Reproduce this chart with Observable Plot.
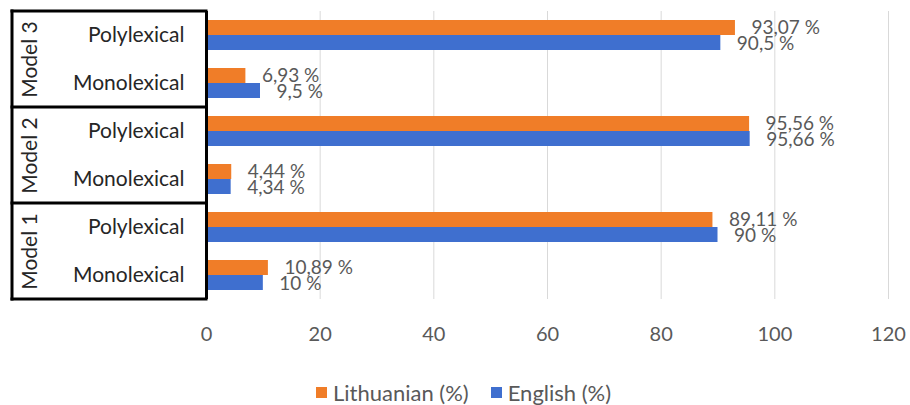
<!DOCTYPE html>
<html>
<head>
<meta charset="utf-8">
<script src="https://cdn.jsdelivr.net/npm/d3@7"></script>
<script src="https://cdn.jsdelivr.net/npm/@observablehq/plot@0.6"></script>
<style>
  html, body { margin: 0; padding: 0; background: #fff; }
  body { width: 910px; height: 405px; overflow: hidden; font-family: Lato, "Open Sans", sans-serif; }
  #legend { display: flex; align-items: center; height: 28px; padding-left: 316px; margin-top: 13px;
            font-family: Lato, sans-serif; font-size: 22px; color: #595959; }
  .item { display: flex; align-items: center; margin-right: 22px; }
  .sw { width: 11px; height: 11px; margin-right: 6px; }
</style>
</head>
<body>
<div id="chart"></div>
<div id="legend"></div>
<script>
const models = ["Model 3", "Model 3", "Model 2", "Model 2", "Model 1", "Model 1"];
const types = ["Polylexical", "Monolexical", "Polylexical", "Monolexical", "Polylexical", "Monolexical"];
const lithuanian = [93.07, 6.93, 95.56, 4.44, 89.11, 10.89];
const english = [90.5, 9.5, 95.66, 4.34, 90, 10];
const seriesNames = ["Lithuanian (%)", "English (%)"];
const colors = ["#F07D28", "#3F6FCF"];
const xTicks = [0, 20, 40, 60, 80, 100, 120];

const fmt = v => String(v).replace(".", ",") + " %";
const data = models.map((m, i) => ({model: m, type: types[i], lt: lithuanian[i], en: english[i]}));

const chart = Plot.plot({
  width: 910,
  height: 365,
  marginLeft: 206,
  marginRight: 22,
  marginTop: 11,
  marginBottom: 66,
  style: {fontFamily: "Lato, 'Open Sans', sans-serif", background: "#fff", overflow: "visible"},
  x: {domain: [0, 120], ticks: xTicks},
  fy: {domain: ["Model 3", "Model 2", "Model 1"], padding: 0},
  y: {domain: ["Polylexical", "Monolexical"], paddingInner: 0.375, paddingOuter: 0.1875},
  marks: [
    Plot.gridX(xTicks.filter(d => d > 0), {stroke: "#d9d9d9", strokeOpacity: 1, strokeWidth: 1}),
    Plot.barX(data, {fy: "model", y: "type", x: "lt", fill: colors[0], insetBottom: 15,
      style: "filter: drop-shadow(1px 2px 1.5px rgba(0,0,0,0.35))"}),
    Plot.barX(data, {fy: "model", y: "type", x: "en", fill: colors[1], insetTop: 15,
      style: "filter: drop-shadow(1px 2px 1.5px rgba(0,0,0,0.35))"}),
    Plot.text(data, {fy: "model", y: "type", x: "lt", text: d => fmt(d.lt), dx: 16, dy: -8,
      textAnchor: "start", fill: "#595959", fontSize: 19}),
    Plot.text(data, {fy: "model", y: "type", x: "en", text: d => fmt(d.en), dx: 16, dy: 8,
      textAnchor: "start", fill: "#595959", fontSize: 19}),
    Plot.ruleX([0], {stroke: "#000", strokeWidth: 3}),
    Plot.axisX({anchor: "bottom", ticks: xTicks, tickSize: 0, tickPadding: 27, fontSize: 20,
      fill: "#595959", label: null}),
    Plot.axisY({anchor: "left", tickSize: 0, tickPadding: 22, fontSize: 21, fill: "#262626", label: null}),
    Plot.axisFy({anchor: "left", tickSize: 0, tickPadding: 170, tickRotate: -90, fontSize: 21,
      fill: "#262626", label: null})
  ]
});
document.getElementById("chart").appendChild(chart);

// black box lines around model groups, positioned from the fy scale
const fy = chart.scale("fy");
const svg = d3.select(chart);
const step = fy.bandwidth;
const leftX = 12, rightX = 206;
const ys = [];
fy.domain.forEach(m => ys.push(fy.apply(m)));
ys.push(fy.apply(fy.domain[fy.domain.length - 1]) + step);
const g = svg.append("g").attr("stroke", "#000").attr("stroke-width", 3).attr("stroke-linecap", "square");
ys.forEach(y => g.append("line").attr("x1", leftX).attr("x2", rightX).attr("y1", y).attr("y2", y));
g.append("line").attr("x1", leftX).attr("x2", leftX).attr("y1", ys[0]).attr("y2", ys[ys.length - 1]);

// legend
const legend = d3.select("#legend");
seriesNames.forEach((name, i) => {
  const it = legend.append("div").attr("class", "item");
  it.append("div").attr("class", "sw").style("background", colors[i]);
  it.append("span").text(name);
});
</script>
</body>
</html>
